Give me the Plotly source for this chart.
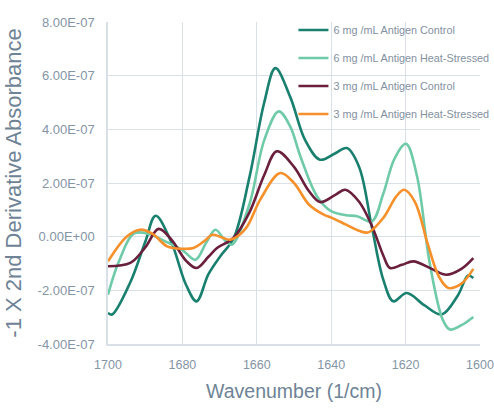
import plotly.graph_objects as go

# Wavenumber (1/cm) and -1 x 2nd derivative absorbance (units of 1e-7)
x_c6 = [1700, 1698.9, 1694, 1690, 1687.2, 1683, 1679, 1676.2, 1673, 1669.8, 1666.2, 1662, 1658, 1655, 1651, 1647, 1643, 1639, 1635.8, 1632.5, 1629.1, 1626, 1623.3, 1619.7, 1615, 1610.3, 1606, 1603.2, 1601.8]
y_c6 = [-2.84, -2.9, -1.7, -0.2, 0.78, -0.2, -1.8, -2.41, -1.4, -0.73, -0.05, 2.2, 5.0, 6.28, 5.2, 3.6, 2.87, 3.1, 3.3, 2.6, 0.38, -1.6, -2.41, -2.1, -2.55, -2.9, -2.2, -1.45, -1.54]

x_h6 = [1700, 1697, 1693, 1689, 1685, 1680, 1676.5, 1673.5, 1671.1, 1668.5, 1666.7, 1662, 1658, 1654.1, 1651, 1648.3, 1643.8, 1640, 1636, 1633, 1629.1, 1626, 1623, 1619.9, 1617, 1613.5, 1610, 1608.1, 1605, 1601.8]
y_h6 = [-2.16, -0.9, 0.12, 0.1, -0.15, -0.5, -0.86, -0.2, 0.26, -0.15, -0.3, 1.2, 3.6, 4.67, 4.1, 3.0, 1.5, 0.95, 0.8, 0.76, 0.57, 1.6, 2.9, 3.46, 2.3, -1.0, -3.1, -3.46, -3.3, -2.99]

x_c3 = [1700, 1694, 1690, 1686.4, 1683, 1679, 1676.2, 1673, 1670.7, 1666.3, 1662, 1658, 1654.6, 1650, 1646, 1643, 1639, 1636.2, 1632.5, 1629, 1626, 1624.2, 1621, 1617.9, 1613, 1609, 1605, 1601.8]
y_c3 = [-1.1, -0.98, -0.4, 0.29, -0.1, -0.9, -1.17, -0.75, -0.42, -0.05, 0.9, 2.3, 3.18, 2.6, 1.7, 1.29, 1.55, 1.75, 1.3, 0.38, -0.7, -1.17, -1.05, -0.92, -1.2, -1.42, -1.2, -0.8]

x_h3 = [1700, 1695, 1691.3, 1688, 1684.1, 1680, 1677, 1674, 1672, 1669.5, 1667.1, 1663, 1659, 1653.7, 1650, 1646, 1642, 1639.8, 1636, 1632.5, 1630, 1626, 1622.5, 1620.4, 1617.5, 1614, 1611, 1608.5, 1605, 1601.8]
y_h3 = [-0.92, 0.0, 0.26, 0.1, -0.36, -0.45, -0.42, -0.15, 0.07, -0.02, -0.11, 0.3, 1.4, 2.37, 2.0, 1.2, 0.82, 0.7, 0.45, 0.22, 0.16, 0.7, 1.5, 1.75, 1.3, -0.3, -1.5, -1.91, -1.75, -1.2]

series_names = [
    "6 mg /mL Antigen Control",
    "6 mg /mL Antigen Heat-Stressed",
    "3 mg /mL Antigen Control",
    "3 mg /mL Antigen Heat-Stressed",
]
series_colors = ["#19806f", "#6fcaa8", "#6a1f3c", "#f6902a"]

y_tick_vals = [-4e-7, -2e-7, 0, 2e-7, 4e-7, 6e-7, 8e-7]
y_tick_text = ["-4.00E-07", "-2.00E-07", "0.00E+00", "2.00E-07", "4.00E-07", "6.00E-07", "8.00E-07"]
x_tick_vals = [1700, 1680, 1660, 1640, 1620, 1600]

FONT = "Liberation Sans, Arial, sans-serif"
TXT = "#7d8fa0"
GRID = "#d9e0e7"

fig = go.Figure()
for i, (xs, ys) in enumerate([(x_c6, y_c6), (x_h6, y_h6), (x_c3, y_c3), (x_h3, y_h3)]):
    fig.add_trace(go.Scatter(
        x=xs, y=[v * 1e-7 for v in ys], mode="lines", name=series_names[i],
        line=dict(color=series_colors[i], width=2.6, shape="spline", smoothing=1.0),
        legendgroup=str(i),
    ))

fig.update_layout(
    width=494, height=408,
    margin=dict(l=108, r=14, t=22, b=64, autoexpand=False),
    paper_bgcolor="white", plot_bgcolor="white",
    font=dict(family=FONT, color=TXT),
    showlegend=True,
    legend=dict(
        x=0.4985, y=1.02, xanchor="left", yanchor="top",
        bgcolor="rgba(0,0,0,0)", font=dict(family=FONT, size=10.8, color="#8391a0"),
        tracegroupgap=9, traceorder="grouped", itemwidth=30,
    ),
    xaxis=dict(
        range=[1700, 1600], tickvals=x_tick_vals, showgrid=True, gridcolor=GRID, gridwidth=1.2,
        zeroline=False, showline=True, linecolor=GRID, linewidth=1.5,
        tickfont=dict(size=12.5, color="#8495a6"),
        ticks="outside", ticklen=8, tickcolor="rgba(0,0,0,0)",
        title=dict(text="Wavenumber (1/cm)", font=dict(size=19.5, color="#6e8395"), standoff=14),
    ),
    yaxis=dict(
        range=[-4e-7, 8e-7], tickvals=y_tick_vals, ticktext=y_tick_text, showgrid=True,
        gridcolor=GRID, gridwidth=1.2, zeroline=False, showline=True, linecolor=GRID, linewidth=1.5,
        tickfont=dict(size=13, color="#8495a6"), ticklabelstandoff=9,
        title=dict(text="-1 X 2nd Derivative Absorbance", font=dict(size=22, color="#6e8395"), standoff=10),
        ticks="",
    ),
)

fig.write_html(
    "out.html",
    config={"displayModeBar": False},
    post_script="document.body.style.margin='0';document.body.style.overflow='hidden';",
)
